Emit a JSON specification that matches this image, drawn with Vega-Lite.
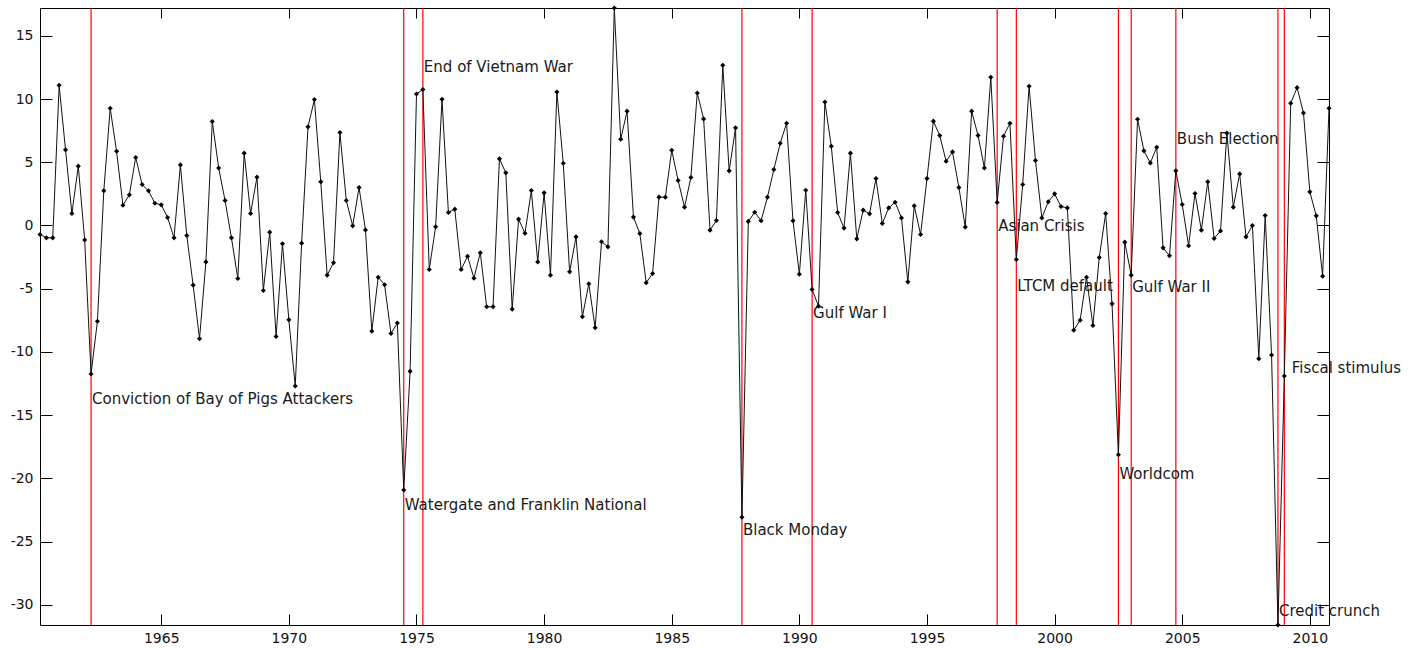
{
  "$schema": "https://vega.github.io/schema/vega-lite/v6.json",
  "width": 1289,
  "height": 617,
  "autosize": {"type": "none"},
  "padding": {"left": 40, "top": 8, "right": 85, "bottom": 23},
  "background": "white",
  "config": {
    "view": {"stroke": "#000", "strokeWidth": 1},
    "axis": {"labelFont": "DejaVu Sans", "labelFontSize": 14, "labelColor": "#111", "tickColor": "#000", "tickWidth": 1, "domain": false, "grid": false}
  },
  "datasets": {
    "series": [
      {"t":1960.25,"v":-0.71},{"t":1960.5,"v":-0.98},{"t":1960.75,"v":-0.98},{"t":1961.0,"v":11.09},
      {"t":1961.25,"v":5.98},{"t":1961.5,"v":0.95},{"t":1961.75,"v":4.69},{"t":1962.0,"v":-1.14},
      {"t":1962.25,"v":-11.75},{"t":1962.5,"v":-7.57},{"t":1962.75,"v":2.74},{"t":1963.0,"v":9.27},
      {"t":1963.25,"v":5.87},{"t":1963.5,"v":1.6},{"t":1963.75,"v":2.42},{"t":1964.0,"v":5.37},
      {"t":1964.25,"v":3.24},{"t":1964.5,"v":2.74},{"t":1964.75,"v":1.76},{"t":1965.0,"v":1.63},
      {"t":1965.25,"v":0.63},{"t":1965.5,"v":-0.98},{"t":1965.75,"v":4.79},{"t":1966.0,"v":-0.79},
      {"t":1966.25,"v":-4.72},{"t":1966.5,"v":-8.96},{"t":1966.75,"v":-2.88},{"t":1967.0,"v":8.22},
      {"t":1967.25,"v":4.55},{"t":1967.5,"v":1.97},{"t":1967.75,"v":-0.98},{"t":1968.0,"v":-4.19},
      {"t":1968.25,"v":5.72},{"t":1968.5,"v":0.95},{"t":1968.75,"v":3.82},{"t":1969.0,"v":-5.14},
      {"t":1969.25,"v":-0.53},{"t":1969.5,"v":-8.78},{"t":1969.75,"v":-1.45},{"t":1970.0,"v":-7.46},
      {"t":1970.25,"v":-12.7},{"t":1970.5,"v":-1.4},{"t":1970.75,"v":7.8},{"t":1971.0,"v":9.96},
      {"t":1971.25,"v":3.45},{"t":1971.5,"v":-3.93},{"t":1971.75,"v":-2.95},{"t":1972.0,"v":7.35},
      {"t":1972.25,"v":1.97},{"t":1972.5,"v":-0.03},{"t":1972.75,"v":3.0},{"t":1973.0,"v":-0.35},
      {"t":1973.25,"v":-8.36},{"t":1973.5,"v":-4.09},{"t":1973.75,"v":-4.69},{"t":1974.0,"v":-8.54},
      {"t":1974.25,"v":-7.72},{"t":1974.5,"v":-20.92},{"t":1974.75,"v":-11.54},{"t":1975.0,"v":10.4},
      {"t":1975.25,"v":10.75},{"t":1975.5,"v":-3.48},{"t":1975.75,"v":-0.11},{"t":1976.0,"v":9.98},
      {"t":1976.25,"v":1.03},{"t":1976.5,"v":1.29},{"t":1976.75,"v":-3.48},{"t":1977.0,"v":-2.43},
      {"t":1977.25,"v":-4.17},{"t":1977.5,"v":-2.16},{"t":1977.75,"v":-6.43},{"t":1978.0,"v":-6.43},
      {"t":1978.25,"v":5.27},{"t":1978.5,"v":4.16},{"t":1978.75,"v":-6.62},{"t":1979.0,"v":0.5},
      {"t":1979.25,"v":-0.61},{"t":1979.5,"v":2.76},{"t":1979.75,"v":-2.88},{"t":1980.0,"v":2.58},
      {"t":1980.25,"v":-3.93},{"t":1980.5,"v":10.56},{"t":1980.75,"v":4.92},{"t":1981.0,"v":-3.67},
      {"t":1981.25,"v":-0.9},{"t":1981.5,"v":-7.22},{"t":1981.75,"v":-4.61},{"t":1982.0,"v":-8.09},
      {"t":1982.25,"v":-1.29},{"t":1982.5,"v":-1.69},{"t":1982.75,"v":17.2},{"t":1983.0,"v":6.82},
      {"t":1983.25,"v":9.04},{"t":1983.5,"v":0.66},{"t":1983.75,"v":-0.63},{"t":1984.0,"v":-4.53},
      {"t":1984.25,"v":-3.8},{"t":1984.5,"v":2.24},{"t":1984.75,"v":2.24},{"t":1985.0,"v":5.95},
      {"t":1985.25,"v":3.56},{"t":1985.5,"v":1.45},{"t":1985.75,"v":3.79},{"t":1986.0,"v":10.48},
      {"t":1986.25,"v":8.43},{"t":1986.5,"v":-0.37},{"t":1986.75,"v":0.39},{"t":1987.0,"v":12.67},
      {"t":1987.25,"v":4.32},{"t":1987.5,"v":7.72},{"t":1987.75,"v":-23.08},{"t":1988.0,"v":0.32},
      {"t":1988.25,"v":1.05},{"t":1988.5,"v":0.37},{"t":1988.75,"v":2.24},{"t":1989.0,"v":4.42},
      {"t":1989.25,"v":6.5},{"t":1989.5,"v":8.09},{"t":1989.75,"v":0.37},{"t":1990.0,"v":-3.85},
      {"t":1990.25,"v":2.79},{"t":1990.5,"v":-5.06},{"t":1990.75,"v":-6.38},{"t":1991.0,"v":9.77},
      {"t":1991.25,"v":6.27},{"t":1991.5,"v":1.03},{"t":1991.75,"v":-0.21},{"t":1992.0,"v":5.72},
      {"t":1992.25,"v":-1.06},{"t":1992.5,"v":1.21},{"t":1992.75,"v":0.92},{"t":1993.0,"v":3.71},
      {"t":1993.25,"v":0.16},{"t":1993.5,"v":1.39},{"t":1993.75,"v":1.84},{"t":1994.0,"v":0.6},
      {"t":1994.25,"v":-4.46},{"t":1994.5,"v":1.55},{"t":1994.75,"v":-0.71},{"t":1995.0,"v":3.71},
      {"t":1995.25,"v":8.25},{"t":1995.5,"v":7.11},{"t":1995.75,"v":5.08},{"t":1996.0,"v":5.82},
      {"t":1996.25,"v":3.0},{"t":1996.5,"v":-0.13},{"t":1996.75,"v":9.04},{"t":1997.0,"v":7.11},
      {"t":1997.25,"v":4.55},{"t":1997.5,"v":11.72},{"t":1997.75,"v":1.82},{"t":1998.0,"v":7.06},
      {"t":1998.25,"v":8.09},{"t":1998.5,"v":-2.69},{"t":1998.75,"v":3.24},{"t":1999.0,"v":11.01},
      {"t":1999.25,"v":5.14},{"t":1999.5,"v":0.6},{"t":1999.75,"v":1.87},{"t":2000.0,"v":2.5},
      {"t":2000.25,"v":1.5},{"t":2000.5,"v":1.39},{"t":2000.75,"v":-8.28},{"t":2001.0,"v":-7.49},
      {"t":2001.25,"v":-4.09},{"t":2001.5,"v":-7.91},{"t":2001.75,"v":-2.53},{"t":2002.0,"v":0.95},
      {"t":2002.25,"v":-6.2},{"t":2002.5,"v":-18.13},{"t":2002.75,"v":-1.32},{"t":2003.0,"v":-3.93},
      {"t":2003.25,"v":8.4},{"t":2003.5,"v":5.9},{"t":2003.75,"v":4.95},{"t":2004.0,"v":6.19},
      {"t":2004.25,"v":-1.77},{"t":2004.5,"v":-2.4},{"t":2004.75,"v":4.32},{"t":2005.0,"v":1.66},
      {"t":2005.25,"v":-1.61},{"t":2005.5,"v":2.53},{"t":2005.75,"v":-0.37},{"t":2006.0,"v":3.45},
      {"t":2006.25,"v":-1.03},{"t":2006.5,"v":-0.43},{"t":2006.75,"v":7.3},{"t":2007.0,"v":1.45},
      {"t":2007.25,"v":4.08},{"t":2007.5,"v":-0.9},{"t":2007.75,"v":0.0},{"t":2008.0,"v":-10.54},
      {"t":2008.25,"v":0.79},{"t":2008.5,"v":-10.25},{"t":2008.75,"v":-31.6},{"t":2009.0,"v":-11.91},
      {"t":2009.25,"v":9.67},{"t":2009.5,"v":10.9},{"t":2009.75,"v":8.9},{"t":2010.0,"v":2.66},
      {"t":2010.25,"v":0.76},{"t":2010.5,"v":-4.01},{"t":2010.75,"v":9.27}
    ],
    "events": [
      {"event":"Conviction of Bay of Pigs Attackers","t":1962.25,"label_t":1962.25,"label_v":-13.73},
      {"event":"Watergate and Franklin National","t":1974.5,"label_t":1974.5,"label_v":-22.11},
      {"event":"End of Vietnam War","t":1975.25,"label_t":1975.25,"label_v":12.54},
      {"event":"Black Monday","t":1987.75,"label_t":1987.75,"label_v":-24.09},
      {"event":"Gulf War I","t":1990.5,"label_t":1990.5,"label_v":-6.96},
      {"event":"Asian Crisis","t":1997.75,"label_t":1997.75,"label_v":-0.06},
      {"event":"LTCM default","t":1998.5,"label_t":1998.5,"label_v":-4.8},
      {"event":"Worldcom","t":2002.5,"label_t":2002.5,"label_v":-19.68},
      {"event":"Gulf War II","t":2003.0,"label_t":2003.0,"label_v":-4.9},
      {"event":"Bush Election","t":2004.75,"label_t":2004.75,"label_v":6.82},
      {"event":"Credit crunch","t":2008.75,"label_t":2008.75,"label_v":-30.47},
      {"event":"Fiscal stimulus","t":2009.0,"label_t":2009.25,"label_v":-11.3}
    ]
  },
  "layer": [
    {
      "data": {"name": "events"},
      "mark": {"type": "rule", "color": "#ff0000", "strokeWidth": 1.2},
      "encoding": {
        "x": {"field": "t", "type": "quantitative",
              "scale": {"domain": [1960.25, 2010.75], "nice": false, "zero": false},
              "axis": {"orient": "bottom", "values": [1965, 1970, 1975, 1980, 1985, 1990, 1995, 2000, 2005, 2010], "labelExpr": "'' + datum.value", "tickSize": -11, "labelPadding": 17, "title": null}}
      }
    },
    {
      "data": {"name": "series"},
      "mark": {"type": "line", "color": "#111111", "strokeWidth": 1},
      "encoding": {
        "x": {"field": "t", "type": "quantitative",
              "scale": {"domain": [1960.25, 2010.75], "nice": false, "zero": false},
              "axis": {"orient": "top", "values": [1965, 1970, 1975, 1980, 1985, 1990, 1995, 2000, 2005, 2010], "labels": false, "tickSize": -10, "title": null}},
        "y": {"field": "v", "type": "quantitative",
              "scale": {"domain": [-31.6, 17.2], "nice": false, "zero": false},
              "axis": {"orient": "left", "values": [-30, -25, -20, -15, -10, -5, 0, 5, 10, 15], "labelExpr": "'' + datum.value", "tickSize": -12, "labelPadding": 19, "title": null}}
      }
    },
    {
      "data": {"name": "series"},
      "mark": {"type": "point", "shape": "diamond", "filled": true, "color": "#000000", "size": 26, "opacity": 1},
      "encoding": {
        "x": {"field": "t", "type": "quantitative", "scale": {"domain": [1960.25, 2010.75], "nice": false, "zero": false}, "axis": null},
        "y": {"field": "v", "type": "quantitative",
              "scale": {"domain": [-31.6, 17.2], "nice": false, "zero": false},
              "axis": {"orient": "right", "values": [-30, -25, -20, -15, -10, -5, 0, 5, 10, 15], "labels": false, "tickSize": -12, "title": null}}
      }
    },
    {
      "data": {"name": "events"},
      "mark": {"type": "text", "align": "left", "baseline": "middle", "dx": 1, "font": "DejaVu Sans", "fontSize": 15, "color": "#1a1a1a"},
      "encoding": {
        "x": {"field": "label_t", "type": "quantitative", "scale": {"domain": [1960.25, 2010.75], "nice": false, "zero": false}, "axis": null},
        "y": {"field": "label_v", "type": "quantitative", "scale": {"domain": [-31.6, 17.2], "nice": false, "zero": false}, "axis": null},
        "text": {"field": "event", "type": "nominal"}
      }
    }
  ],
  "resolve": {"axis": {"x": "independent", "y": "independent"}}
}
